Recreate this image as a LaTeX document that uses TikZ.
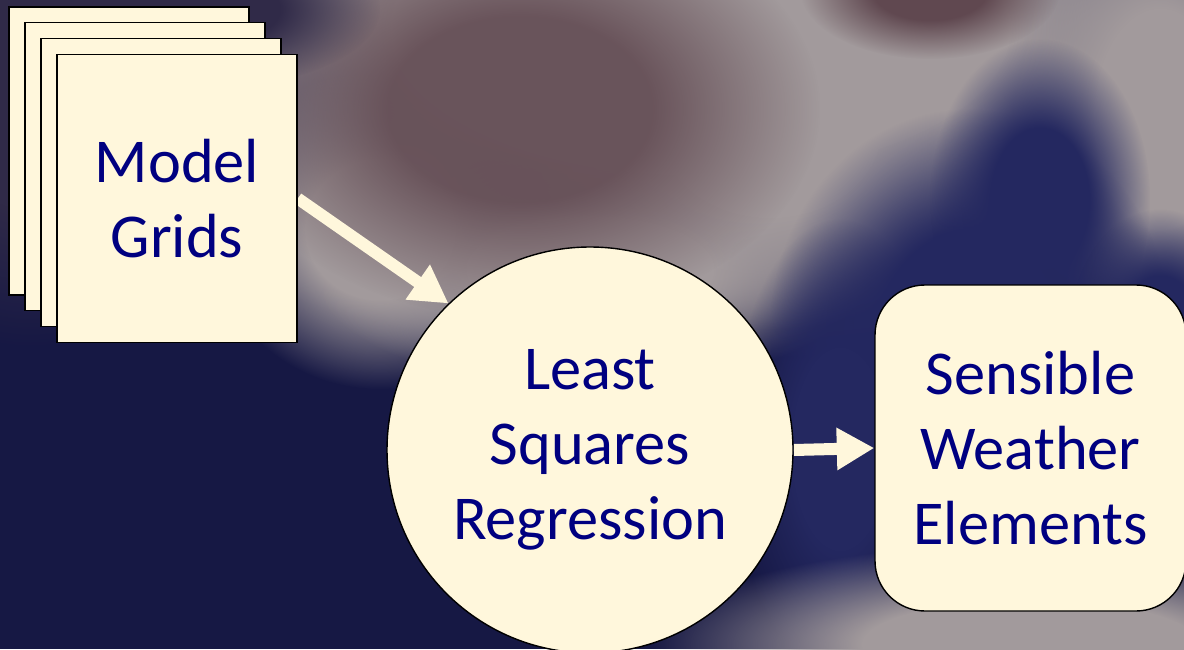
\documentclass[tikz,border=0pt]{standalone}
\usepackage{fontspec}
\setmainfont{Carlito}
\usetikzlibrary{arrows.meta,fadings}
\definecolor{skynavy}{RGB}{22,24,68}
\definecolor{cloudgray}{RGB}{162,154,156}
\definecolor{cloudbrown}{RGB}{96,72,80}
\definecolor{cloudnavy}{RGB}{36,40,96}
\definecolor{cloudplum}{RGB}{48,42,72}
\definecolor{paper}{HTML}{FFF7DC}
\definecolor{inknavy}{HTML}{000080}

\pgfdeclareradialshading{softshade}{\pgfpointorigin}{%
    color(0bp)=(pgftransparent!0); color(11bp)=(pgftransparent!0);
    color(25bp)=(pgftransparent!100); color(50bp)=(pgftransparent!100)}
\pgfdeclarefading{softblob}{\pgfuseshading{softshade}}

\pgfdeclarelayer{sky}
\pgfdeclarelayer{links}
\pgfsetlayers{sky,links,main}

\begin{document}
\begin{tikzpicture}[
    sheet/.style={
        draw=black, line width=0.9pt, fill=paper,
        minimum width=4.8cm, minimum height=5.76cm,
        inner sep=0pt
    },
    label text/.style={
        text=inknavy, align=center,
        font=\fontsize{35.5}{42.5}\selectfont
    },
    blob/.style={path fading=softblob},
    flow/.style={
        -{Triangle[length=0.75cm, width=0.8cm]},
        line width=0.24cm,
        draw=paper
    }
]
\clip (0,0) rectangle (23.68,12.98);

% =================== Sky ===================
\begin{pgfonlayer}{sky}
    \fill[skynavy] (0,0) rectangle (23.68,12.98);
    % light cloud deck
    \fill[cloudgray, blob] (14.0, 12.4) ellipse[x radius=14.0, y radius=6.6];
    \fill[cloudgray, blob] (7.6, 8.4) ellipse[x radius=3.4, y radius=3.2];
    \fill[cloudgray, blob] (11.8, 7.6) ellipse[x radius=5.6, y radius=2.4];
    \fill[cloudgray, blob] (15.4, 10.4) ellipse[x radius=5.0, y radius=4.0];
    \fill[cloudgray, blob] (23.2, 10.6) ellipse[x radius=3.0, y radius=5.0];
    % darker patches
    \fill[cloudbrown, blob, opacity=0.85] (10.4, 10.8) ellipse[x radius=6.0, y radius=4.2];
    \fill[cloudbrown, blob] (18.6, 13.2) ellipse[x radius=2.6, y radius=1.4];
    \fill[cloudplum, blob] (0.6, 11.0) ellipse[x radius=4.0, y radius=5.0];
    \fill[cloudplum, blob] (4.0, 12.8) ellipse[x radius=3.6, y radius=1.6];
    % dark cloud tower
    \fill[cloudnavy, blob] (16.8, 4.0) ellipse[x radius=2.2, y radius=4.6];
    \fill[cloudnavy, blob] (19.4, 6.4) ellipse[x radius=4.0, y radius=4.4];
    \fill[cloudnavy, blob] (20.8, 9.0) ellipse[x radius=2.2, y radius=3.2];
    \fill[cloudnavy, blob] (23.2, 6.4) ellipse[x radius=1.8, y radius=2.4];
    % lower right
    \fill[cloudgray, blob] (20.6, 0.1) ellipse[x radius=7.6, y radius=2.0];
\end{pgfonlayer}

% =================== Model grids stack ===================
\node[sheet] (grid1) at (2.58, 9.96) {};
\node[sheet] (grid2) at (2.90, 9.65) {};
\node[sheet] (grid3) at (3.22, 9.33) {};
\node[sheet, label text] (grid4) at (3.54, 9.01) {Model\\Grids};

% =================== Regression ===================
\node[circle, draw=black, line width=0.8pt, fill=paper, minimum size=8.12cm,
    label text] (lsr) at (11.80, 3.98) {Least\\Squares\\Regression};

% =================== Output ===================
\node[rectangle, rounded corners=1cm, draw=black, line width=0.8pt, fill=paper,
    minimum width=6.22cm, minimum height=6.52cm, label text]
    (swe) at (20.61, 4.02) {Sensible\\Weather\\Elements};

% Arrows
\begin{pgfonlayer}{links}
    \draw[flow] (grid4.east) -- (lsr.134);
    \draw[flow] (lsr.east) -- (swe.west);
\end{pgfonlayer}

\end{tikzpicture}
\end{document}
